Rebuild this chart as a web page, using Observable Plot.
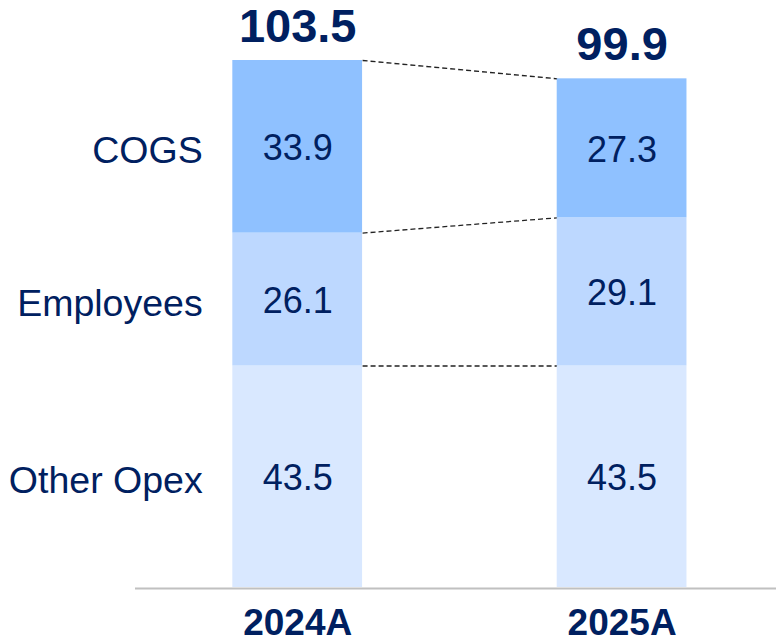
<!DOCTYPE html>
<html>
<head>
<meta charset="utf-8">
<script src="https://cdn.jsdelivr.net/npm/d3@7"></script>
<script src="https://cdn.jsdelivr.net/npm/@observablehq/plot@0.6"></script>
<style>
  html, body { margin: 0; padding: 0; background: #ffffff; }
  #chart { width: 776px; height: 642px; }
</style>
</head>
<body>
<div id="chart"></div>
<script>
// ---- data ----
const years = ["2024A", "2025A"];
const categories = ["Other Opex", "Employees", "COGS"]; // bottom to top
const otherOpex = [43.5, 43.5];
const employees = [26.1, 29.1];
const cogs = [33.9, 27.3];
const totals = [103.5, 99.9];

// ---- styles ----
const colors = {"Other Opex": "#d9e8ff", "Employees": "#bdd8ff", "COGS": "#8fc1ff"};
const navy = "#002060";
const font = "'Liberation Sans', Arial, Helvetica, sans-serif";
const hw = 0.2; // half bar width in x units

// ---- build stacked table ----
const seriesValues = [otherOpex, employees, cogs];
const segments = [];
const boundaries = years.map(() => [0]);
years.forEach((yr, i) => {
  let cum = 0;
  categories.forEach((cat, k) => {
    const v = seriesValues[k][i];
    segments.push({year: yr, i, category: cat, value: v, y1: cum, y2: cum + v});
    cum += v;
    boundaries[i].push(cum);
  });
});
const connectors = categories.map((cat, k) => ({
  a: boundaries[0][k + 1],
  b: boundaries[1][k + 1]
}));
const totalRows = years.map((yr, i) => ({i, year: yr, total: totals[i]}));
const labelRows = segments.filter(d => d.i === 0);

const plot = Plot.plot({
  width: 776,
  height: 642,
  marginLeft: 135,
  marginRight: 0,
  marginTop: 60,
  marginBottom: 55,
  style: {background: "#ffffff", fontFamily: font},
  x: {domain: [-0.5, 1.476], axis: null},
  y: {domain: [0, 103.5], axis: null},
  marks: [
    Plot.link(connectors, {
      x1: () => 0 + hw, x2: () => 1 - hw,
      y1: "a", y2: "b",
      stroke: "#222222", strokeWidth: 1.3, strokeDasharray: "5,3"
    }),
    Plot.rectY(segments, {
      x1: d => d.i - hw, x2: d => d.i + hw,
      y1: "y1", y2: "y2",
      fill: d => colors[d.category]
    }),
    Plot.ruleY([0], {stroke: "#c0c0c0", strokeWidth: 2, dy: 1}),
    Plot.text(segments, {
      x: "i", y: d => (d.y1 + d.y2) / 2,
      text: d => d.value.toFixed(1),
      dy: 2, fill: navy, fontSize: 36
    }),
    Plot.text(labelRows, {
      x: "i", y: d => (d.y1 + d.y2) / 2,
      text: "category", textAnchor: "end", dx: -95, dy: 4,
      fill: navy, fontSize: 37.5
    }),
    Plot.text(totalRows, {
      x: "i", y: "total", text: d => d.total.toFixed(1),
      dy: -34, fill: navy, fontSize: 47, fontWeight: "bold"
    }),
    Plot.text(totalRows, {
      x: "i", y: () => 0, text: "year",
      dy: 36, fill: navy, fontSize: 37, fontWeight: "bold"
    })
  ]
});
document.getElementById("chart").appendChild(plot);
</script>
</body>
</html>
